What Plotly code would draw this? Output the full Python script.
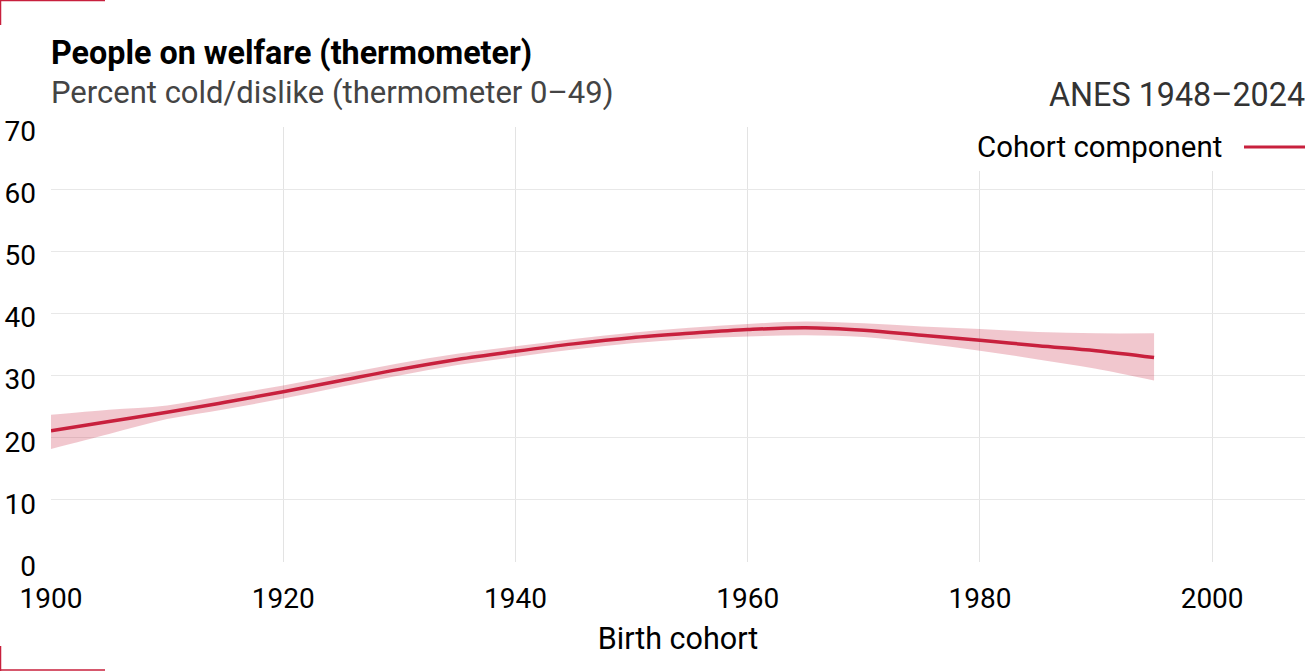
import plotly.graph_objects as go

# -------------------------------------------------
# Data
# -------------------------------------------------
COHORT = [1900, 1905, 1910, 1915, 1920, 1925, 1930, 1935, 1940, 1945,
          1950, 1955, 1960, 1965, 1970, 1975, 1980, 1985, 1990, 1995]
ESTIMATE = [21.1, 22.6, 24.1, 25.7, 27.4, 29.2, 31.0, 32.6, 33.9, 35.1,
            36.1, 36.8, 37.4, 37.7, 37.3, 36.5, 35.7, 34.8, 34.0, 32.9]
UPPER = [23.7, 24.5, 25.2, 26.8, 28.4, 30.2, 32.0, 33.5, 34.7, 35.9,
         36.9, 37.7, 38.3, 38.7, 38.4, 37.9, 37.5, 37.0, 36.8, 36.8]
LOWER = [18.2, 20.6, 23.0, 24.6, 26.3, 28.2, 30.0, 31.7, 33.0, 34.2,
         35.2, 35.9, 36.3, 36.5, 36.2, 35.2, 34.0, 32.6, 31.1, 29.2]

X_TICKS = [1900, 1920, 1940, 1960, 1980, 2000]
Y_TICKS = [0, 10, 20, 30, 40, 50, 60, 70]

RED = "#C8203D"
BAND = "rgba(200,32,61,0.25)"
FONT = "Roboto"

W, H = 1305, 671
L, R, T, B = 51, 0, 127, 109


def px(x):
    return (x - L) / (W - L - R)


def py(y):
    return (H - B - y) / (H - T - B)


fig = go.Figure()

# uncertainty band: lower edge, then upper edge filled down to it
fig.add_trace(go.Scatter(
    x=COHORT, y=LOWER, mode="lines",
    line=dict(width=0, shape="spline"),
    hoverinfo="skip", showlegend=False,
))
fig.add_trace(go.Scatter(
    x=COHORT, y=UPPER, mode="lines",
    line=dict(width=0, shape="spline"),
    fill="tonexty", fillcolor=BAND,
    hoverinfo="skip", showlegend=False,
))
fig.add_trace(go.Scatter(
    x=COHORT, y=ESTIMATE,
    mode="lines",
    line=dict(color=RED, width=3.5, shape="spline"),
    name="Cohort component",
    showlegend=False,
))

# legend drawn by hand (label left of the swatch)
shapes = [
    dict(type="rect", xref="paper", yref="paper", layer="above",
         x0=px(962), x1=px(1306), y0=py(171), y1=py(126),
         fillcolor="white", line=dict(width=0)),
    dict(type="line", xref="paper", yref="paper", layer="above",
         x0=px(1244), x1=px(1305), y0=py(147), y1=py(147),
         line=dict(color=RED, width=3)),
    # corner marks
    dict(type="line", xref="paper", yref="paper",
         x0=px(0), x1=px(105), y0=py(0.5), y1=py(0.5),
         line=dict(color=RED, width=1.5)),
    dict(type="line", xref="paper", yref="paper",
         x0=px(0.5), x1=px(0.5), y0=py(0), y1=py(25),
         line=dict(color=RED, width=1.5)),
    dict(type="line", xref="paper", yref="paper",
         x0=px(0), x1=px(105), y0=py(670), y1=py(670),
         line=dict(color=RED, width=1.5)),
    dict(type="line", xref="paper", yref="paper",
         x0=px(0.5), x1=px(0.5), y0=py(671), y1=py(646),
         line=dict(color=RED, width=1.5)),
]

annotations = [
    dict(text="<b>People on welfare (thermometer)</b>", xref="paper", yref="paper",
         x=px(49), y=py(53), xanchor="left", yanchor="middle", showarrow=False,
         font=dict(family=FONT, size=32.3, color="#000000")),
    dict(text="Percent cold/dislike (thermometer 0\u201349)", xref="paper", yref="paper",
         x=px(49), y=py(93), xanchor="left", yanchor="middle", showarrow=False,
         font=dict(family=FONT, size=31, color="#444444")),
    dict(text="ANES 1948\u20132024", xref="paper", yref="paper",
         x=px(1307), y=py(95), xanchor="right", yanchor="middle", showarrow=False,
         font=dict(family=FONT, size=32.3, color="#333333")),
    dict(text="Cohort component", xref="paper", yref="paper",
         x=px(1224), y=py(147), xanchor="right", yanchor="middle", showarrow=False,
         font=dict(family=FONT, size=29.4, color="#000000")),
]

fig.update_layout(
    width=W, height=H,
    margin=dict(l=L, r=R, t=T, b=B),
    paper_bgcolor="white",
    plot_bgcolor="white",
    font=dict(family=FONT, size=28, color="#000000"),
    shapes=shapes,
    annotations=annotations,
    showlegend=False,
)
fig.update_xaxes(
    range=[1900, 2008], tickvals=X_TICKS,
    showgrid=True, gridcolor="#E3E3E3", gridwidth=1,
    zeroline=False, showline=False, ticks="",
    ticklabelstandoff=17,
    title=dict(text="Birth cohort", font=dict(family=FONT, size=30.5), standoff=13),
)
fig.update_yaxes(
    range=[0, 70], tickvals=Y_TICKS,
    showgrid=True, gridcolor="#E8E8E8", gridwidth=1,
    zeroline=False, showline=False, ticks="",
    ticklabelstandoff=14, ticklabelshift=4,
)

fig.write_html("out.html", config={"displayModeBar": False},
               post_script="document.body.style.margin='0';")
